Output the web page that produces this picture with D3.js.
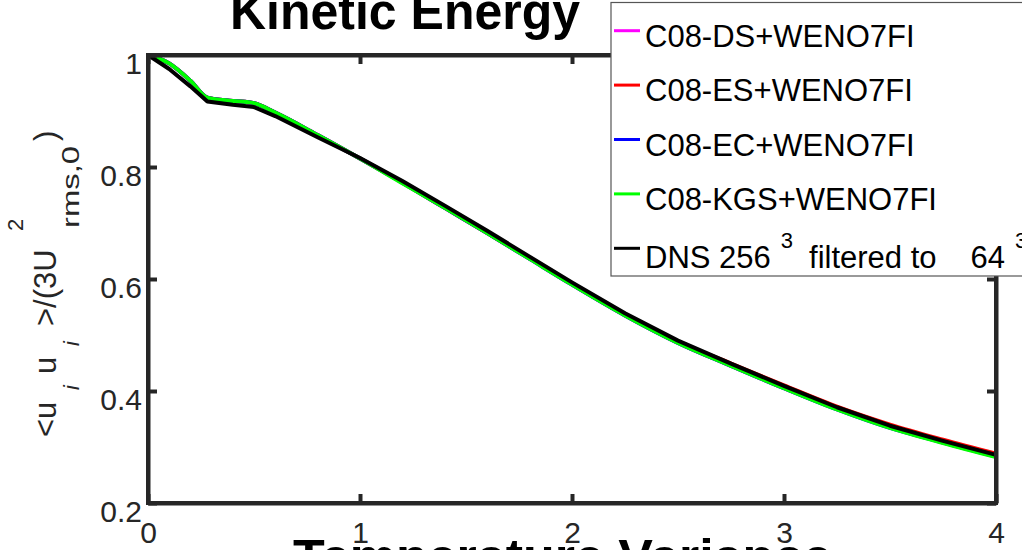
<!DOCTYPE html>
<html>
<head>
<meta charset="utf-8">
<script src="https://cdn.jsdelivr.net/npm/d3@7"></script>
<style>
  html, body { margin: 0; padding: 0; background: #fff; }
  svg { display: block; }
  text { font-family: "Liberation Sans", Arial, Helvetica, sans-serif; }
</style>
</head>
<body>
<svg id="chart" width="1022" height="550"></svg>
<script>
// Normalised kinetic energy decay vs. time
const time = [0, 0.1, 0.2, 0.28, 0.4, 0.5, 0.6, 0.8, 1.0, 1.2, 1.4, 1.6, 1.8, 2.0, 2.25, 2.5, 2.75, 3.0, 3.25, 3.5, 3.75, 4.0];

const dsValues  = [1.000, 0.985, 0.954, 0.924, 0.918, 0.914, 0.897, 0.857, 0.815, 0.772, 0.727, 0.682, 0.636, 0.590, 0.535, 0.486, 0.445, 0.405, 0.368, 0.335, 0.308, 0.283];
const esValues  = [1.000, 0.985, 0.954, 0.924, 0.918, 0.914, 0.897, 0.857, 0.815, 0.772, 0.727, 0.682, 0.637, 0.591, 0.536, 0.488, 0.449, 0.410, 0.372, 0.340, 0.313, 0.288];
const ecValues  = [1.000, 0.985, 0.954, 0.924, 0.918, 0.914, 0.897, 0.857, 0.815, 0.772, 0.727, 0.682, 0.636, 0.590, 0.535, 0.486, 0.445, 0.405, 0.367, 0.334, 0.308, 0.283];
const kgsValues = [1.000, 0.985, 0.954, 0.924, 0.918, 0.914, 0.897, 0.857, 0.815, 0.771, 0.727, 0.682, 0.636, 0.590, 0.535, 0.486, 0.445, 0.405, 0.367, 0.334, 0.307, 0.282];
const dnsValues = [1.000, 0.975, 0.944, 0.917, 0.911, 0.907, 0.891, 0.853, 0.816, 0.775, 0.731, 0.686, 0.640, 0.594, 0.539, 0.490, 0.449, 0.409, 0.371, 0.338, 0.311, 0.286];

const seriesNames  = ["C08-DS+WENO7FI", "C08-ES+WENO7FI", "C08-EC+WENO7FI", "C08-KGS+WENO7FI", "DNS 256^3 filtered to|64^3"];
const seriesColors = ["#ff00ff", "#ff0000", "#0000ff", "#00ff00", "#000000"];
const seriesData   = [dsValues, esValues, ecValues, kgsValues, dnsValues];

const xTicks = [0, 1, 2, 3, 4];
const yTicks = [0.2, 0.4, 0.6, 0.8, 1];
const xTickLabels = ["0", "1", "2", "3", "4"];
const yTickLabels = ["0.2", "0.4", "0.6", "0.8", "1"];

const titleText = "Kinetic Energy";
const nextTitleText = "Temperature Variance";

// ---- layout ----
const svg = d3.select("#chart");
const axisColor = "#262626";
const plot = { left: 148, right: 996, top: 55, bottom: 503 };

const x = d3.scaleLinear().domain([0, 4]).range([plot.left, plot.right]);
const y = d3.scaleLinear().domain([0.2, 1]).range([plot.bottom, plot.top]);

// ---- titles ----
svg.append("text")
  .attr("x", 230).attr("y", 29)
  .attr("font-size", 52).attr("font-weight", "bold")
  .attr("textLength", 350).attr("lengthAdjust", "spacingAndGlyphs")
  .attr("fill", "#000")
  .text(titleText);

svg.append("text")
  .attr("x", 293).attr("y", 573)
  .attr("font-size", 48).attr("font-weight", "bold")
  .attr("textLength", 539).attr("lengthAdjust", "spacingAndGlyphs")
  .attr("fill", "#000")
  .text(nextTitleText);

// ---- curves ----
const line = d3.line()
  .x((d, i) => x(time[i]))
  .y(d => y(d));

seriesData.forEach((vals, k) => {
  const isRef = k === seriesData.length - 1;
  svg.append("path")
    .datum(vals)
    .attr("fill", "none")
    .attr("stroke", seriesColors[k])
    .attr("stroke-width", 4)
    .attr("stroke-linejoin", "round")
    .attr("d", line.curve(isRef ? d3.curveLinear : d3.curveMonotoneX));
});

// ---- axes (boxed, inward ticks) ----
function styleAxis(g) {
  g.select(".domain").attr("stroke", axisColor).attr("stroke-width", 4);
  g.selectAll(".tick line").attr("stroke", axisColor).attr("stroke-width", 4);
  g.selectAll(".tick text").attr("fill", axisColor);
}

const gBottom = svg.append("g")
  .attr("transform", `translate(0,${plot.bottom})`)
  .call(d3.axisBottom(x).tickValues(xTicks).tickSizeInner(-9).tickSizeOuter(0)
    .tickPadding(0).tickFormat((d, i) => xTickLabels[i]));
gBottom.call(styleAxis);
gBottom.selectAll(".tick text")
  .attr("font-size", 30).attr("font-family", "Liberation Sans, Arial, sans-serif")
  .attr("dy", null).attr("y", 40);

const gLeft = svg.append("g")
  .attr("transform", `translate(${plot.left},0)`)
  .call(d3.axisLeft(y).tickValues(yTicks).tickSizeInner(-9).tickSizeOuter(0)
    .tickPadding(0).tickFormat((d, i) => yTickLabels[i]));
gLeft.call(styleAxis);
gLeft.selectAll(".tick text")
  .attr("font-size", 30).attr("font-family", "Liberation Sans, Arial, sans-serif")
  .attr("x", -6).attr("dy", null).attr("y", 18);

const gTop = svg.append("g")
  .attr("transform", `translate(0,${plot.top})`)
  .call(d3.axisTop(x).tickValues(xTicks).tickSizeInner(-9).tickSizeOuter(0).tickFormat(""));
gTop.call(styleAxis);

const gRight = svg.append("g")
  .attr("transform", `translate(${plot.right},0)`)
  .call(d3.axisRight(y).tickValues(yTicks).tickSizeInner(-9).tickSizeOuter(0).tickFormat(""));
gRight.call(styleAxis);

// square off the box corners
svg.append("rect")
  .attr("x", plot.left).attr("y", plot.top)
  .attr("width", plot.right - plot.left).attr("height", plot.bottom - plot.top)
  .attr("fill", "none").attr("stroke", axisColor).attr("stroke-width", 4);

// ---- y-axis label: <u_i u_i>/(3U^2_{rms,0}) rotated ----
const yLab = svg.append("g").attr("transform", "rotate(-90)").attr("fill", axisColor);
const yLabelParts = [
  { t: "<u",    start: 437, base: 56, size: 31 },
  { t: "i",     start: 390, base: 79, size: 22, italic: true },
  { t: "u",     start: 374, base: 56, size: 31 },
  { t: "i",     start: 346, base: 79, size: 22, italic: true },
  { t: ">/(3U", start: 326, base: 56, size: 31 },
  { t: "2",     start: 231, base: 23, size: 22 },
  { t: "rms,0", start: 228, base: 79, size: 24, len: 82 },
  { t: ")",     start: 141, base: 56, size: 31 }
];
yLabelParts.forEach(p => {
  const t = yLab.append("text")
    .attr("x", -p.start).attr("y", p.base)
    .attr("font-size", p.size)
    .attr("font-style", p.italic ? "italic" : "normal")
    .text(p.t);
  if (p.len) t.attr("textLength", p.len).attr("lengthAdjust", "spacingAndGlyphs");
});

// ---- legend ----
const legend = svg.append("g");
legend.append("rect")
  .attr("x", 611).attr("y", 2.5)
  .attr("width", 440).attr("height", 273.5)
  .attr("fill", "#fff").attr("stroke", "#555").attr("stroke-width", 1.2);

const rowY = d3.scaleLinear().domain([0, 4]).range([30.7, 248.3]);

seriesNames.forEach((name, k) => {
  const ly = rowY(k);
  legend.append("line")
    .attr("x1", 614).attr("x2", 640).attr("y1", ly).attr("y2", ly)
    .attr("stroke", seriesColors[k]).attr("stroke-width", 3);

  const hasSup = name.includes("^");
  const txt = legend.append("text")
    .attr("x", 645).attr("y", ly + (hasSup ? 20 : 16))
    .attr("font-size", 31).attr("fill", "#000");
  if (!hasSup) { txt.text(name); return; }

  // "|" marks a wide gap, "^d" a raised digit
  const pieces = name.split(/(\^\d|\|)/).filter(s => s.length);
  let raised = false;
  let gap = 0;
  pieces.forEach(s => {
    if (s === "|") { gap = 34; return; }
    if (s.startsWith("^")) {
      txt.append("tspan").attr("dx", 10).attr("dy", -20)
        .attr("font-size", 22).text(s.slice(1));
      raised = true;
      gap = 16;
    } else {
      txt.append("tspan").attr("dx", gap).attr("dy", raised ? 20 : 0)
        .text(s.trim());
      raised = false;
      gap = 0;
    }
  });
});
</script>
</body>
</html>
